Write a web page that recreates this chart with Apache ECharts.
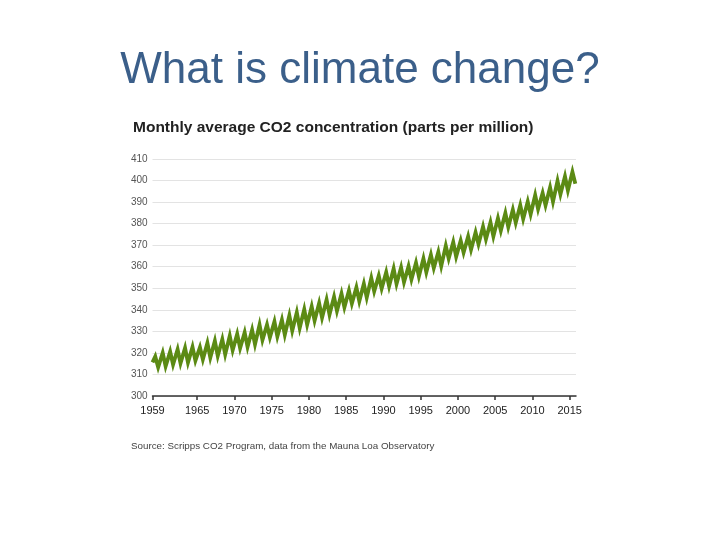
<!DOCTYPE html>
<html><head><meta charset="utf-8">
<script src="https://cdn.jsdelivr.net/npm/echarts@6/dist/echarts.min.js"></script>
<style>html,body{margin:0;padding:0;background:#fff}#c{width:720px;height:540px}</style>
</head><body><div id="c"></div>
<script>
// Years and seasonal peak (May) / trough (Sep-Oct) CO2 values, ppm
var years = [1959,1960,1961,1962,1963,1964,1965,1966,1967,1968,1969,1970,1971,1972,1973,1974,1975,1976,1977,1978,1979,1980,1981,1982,1983,1984,1985,1986,1987,1988,1989,1990,1991,1992,1993,1994,1995,1996,1997,1998,1999,2000,2001,2002,2003,2004,2005,2006,2007,2008,2009,2010,2011,2012,2013,2014,2015];
var peaks = [318.3,320.0,320.6,321.6,322.3,322.7,322.6,324.6,325.6,326.3,327.9,328.8,329.5,330.7,333.0,333.1,334.5,335.3,337.3,338.8,340.2,341.5,343.1,344.7,346.0,347.5,348.9,350.4,352.1,354.7,355.8,357.4,359.1,359.6,360.2,361.8,363.8,365.5,366.8,369.7,371.4,372.1,374.0,375.9,378.6,380.6,382.5,384.9,386.4,388.5,390.2,393.2,394.2,396.8,399.8,401.9,404.0];
var troughs = [313.3,313.8,314.6,315.2,315.5,316.4,317.0,317.8,318.6,319.3,321.3,322.2,322.8,324.0,326.0,327.2,327.6,328.4,330.3,331.6,333.1,335.0,336.4,337.8,339.5,341.2,342.9,344.0,345.7,348.6,349.9,351.0,352.0,352.8,354.1,355.5,357.4,359.4,360.3,363.8,364.7,366.6,368.0,370.5,372.8,374.1,376.8,378.4,380.4,382.2,384.4,386.8,388.5,390.2,393.6,395.4,398.5];
var startValue = 315.6;
var yTicks = [300,310,320,330,340,350,360,370,380,390,400,410];
var xTicks = [1959,1965,1970,1975,1980,1985,1990,1995,2000,2005,2010,2015];

var data = [[years[0], startValue]];
for (var i = 0; i < years.length; i++) {
  data.push([years[i] + 0.37, peaks[i]]);
  data.push([years[i] + 0.76, troughs[i]]);
}

var chart = echarts.init(document.getElementById('c'));
chart.setOption({
  animation: false,
  backgroundColor: '#fff',
  title: [
    {text: 'What is climate change?', left: 'center', top: 49, padding: 0,
     textStyle: {fontFamily: 'Liberation Sans', fontSize: 44, fontWeight: 'normal', color: '#3b5f8a'}},
    {text: 'Monthly average CO2 concentration (parts per million)', left: 133, top: 120, padding: 0,
     textStyle: {fontFamily: 'Liberation Sans', fontSize: 15.5, fontWeight: 'bold', color: '#222'}},
    {text: 'Source: Scripps CO2 Program, data from the Mauna Loa Observatory', left: 131, top: 441, padding: 0,
     textStyle: {fontFamily: 'Liberation Sans', fontSize: 9.8, fontWeight: 'normal', color: '#444'}}
  ],
  grid: {left: 152.5, right: 144, top: 159, bottom: 144, containLabel: false},
  xAxis: {
    type: 'value', min: 1959, max: 2015.85,
    axisLine: {show: true, lineStyle: {color: '#333', width: 1.5}},
    axisTick: {show: true, customValues: xTicks, length: 4, lineStyle: {color: '#333', width: 1.5}},
    axisLabel: {customValues: xTicks, formatter: function(v){return String(v);}, margin: 9,
      fontFamily: 'Liberation Sans', fontSize: 11, color: '#222'},
    splitLine: {show: false}
  },
  yAxis: {
    type: 'value', min: 300, max: 410, interval: 10,
    axisLine: {show: false}, axisTick: {show: false},
    axisLabel: {align: 'left', margin: 21.5, fontFamily: 'Liberation Sans', fontSize: 10, color: '#555',
      formatter: function(v){return yTicks.indexOf(v) >= 0 ? String(v) : '';}},
    splitLine: {show: true, lineStyle: {color: '#e3e3e3', width: 1}}
  },
  series: [{
    type: 'line', data: data, showSymbol: false, symbol: 'none',
    lineStyle: {color: '#5b8a14', width: 3.8, join: 'miter'}
  }]
});
</script></body></html>
